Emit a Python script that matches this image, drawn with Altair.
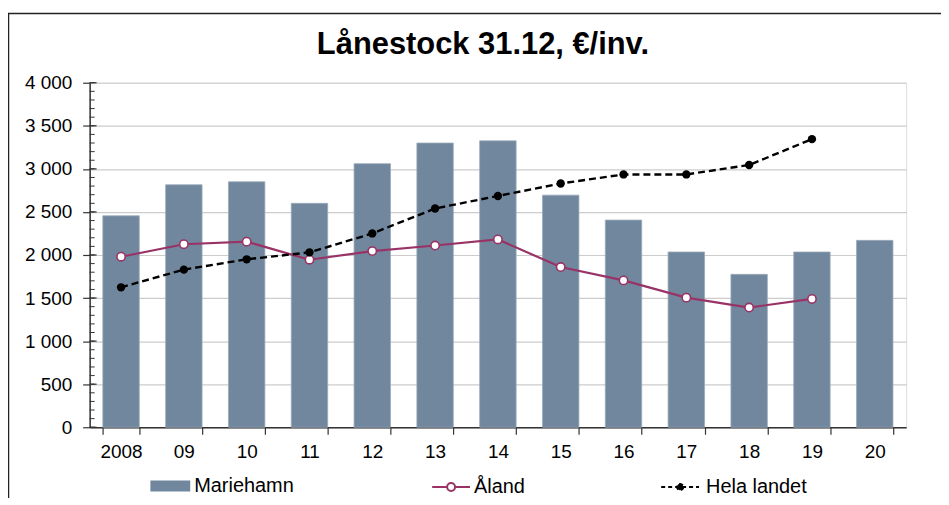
import altair as alt
import pandas as pd

years = ["2008", "09", "10", "11", "12", "13", "14", "15", "16", "17", "18", "19", "20"]
mariehamn = [2455, 2815, 2850, 2600, 3060, 3300, 3325, 2695, 2405, 2035, 1775, 2035, 2170]
aland = [1980, 2125, 2155, 1945, 2045, 2110, 2180, 1860, 1705, 1505, 1390, 1490, None]
hela = [1625, 1830, 1950, 2030, 2250, 2540, 2685, 2830, 2935, 2935, 3045, 3345, None]

major_ticks = list(range(0, 4001, 500))
minor_ticks = list(range(0, 4001, 100))

W, H = 820, 346
FONT = "Liberation Sans"

df_bar = pd.DataFrame({"year": years, "value": mariehamn, "s": "Mariehamn"})
df_al = pd.DataFrame({"year": years, "value": aland, "s": "Åland"}).dropna()
df_he = pd.DataFrame({"year": years, "value": hela, "s": "Hela landet"}).dropna()
df_major = pd.DataFrame({"value": major_ticks})
df_minor = pd.DataFrame({"value": minor_ticks})

x = alt.X("year:N", sort=years,
          scale=alt.Scale(paddingInner=0.42, paddingOuter=0.21),
          axis=alt.Axis(title=None, labelAngle=0, tickBand="extent", tickSize=7,
                        labelPadding=8, labelFontSize=19, labelColor="black",
                        labelFont=FONT, domainColor="#333", tickColor="#333",
                        domainWidth=1.5, tickWidth=1.2, grid=False))
y = alt.Y("value:Q",
          scale=alt.Scale(domain=[0, 4000], nice=False),
          axis=alt.Axis(title=None, values=major_ticks,
                        labelExpr="replace(format(datum.value, ','), ',', ' ')",
                        tickSize=7, labelPadding=11, labelFontSize=19,
                        labelColor="black", labelFont=FONT,
                        domainColor="#333", tickColor="#333", domainWidth=1.5,
                        tickWidth=1.2, grid=True, gridColor="#CCCCCC", gridWidth=1.2))

LEG_Y = 405

def leg(lx, size, **kw):
    return alt.Legend(title=None, orient="none", legendX=lx,
                      legendY=LEG_Y - (size ** 0.5) / 2, padding=0,
                      labelFontSize=20, labelColor="black", labelFont=FONT,
                      symbolSize=size, **kw)

bars = alt.Chart(df_bar).mark_bar(stroke="#9AAABB", strokeWidth=0.8).encode(
    x=x, y=y,
    color=alt.Color("s:N", scale=alt.Scale(domain=["Mariehamn"], range=["#71879D"]),
                    legend=leg(61, 1600, symbolType="M-1,-0.27H1V0.27H-1Z",
                               symbolStrokeWidth=0, symbolOpacity=1, labelOffset=4)))

al_line = alt.Chart(df_al).mark_line(strokeWidth=2.2).encode(
    x=x, y=y,
    color=alt.Color("s:N", scale=alt.Scale(domain=["Åland"], range=["#993366"]),
                    legend=leg(343, 1444,
                               symbolType="M-1,0H-0.21M0.21,0H1M0.21,0A0.21,0.21,0,1,1,-0.21,0A0.21,0.21,0,1,1,0.21,0",
                               symbolFillColor="white", symbolStrokeWidth=2, labelOffset=3)))
al_pts = alt.Chart(df_al).mark_point(filled=True, fill="white", stroke="#993366",
                                     strokeWidth=1.6, size=70, opacity=1).encode(x=x, y=y)

he_line = alt.Chart(df_he).mark_line(strokeWidth=2.4, strokeDash=[7, 4]).encode(
    x=x, y=y,
    color=alt.Color("s:N", scale=alt.Scale(domain=["Hela landet"], range=["black"]),
                    legend=leg(573, 1444,
                               symbolType="M-1,0H1M0.17,0A0.17,0.17,0,1,1,-0.17,0A0.17,0.17,0,1,1,0.17,0",
                               symbolFillColor="black", symbolStrokeWidth=1.8,
                               symbolDash=[4, 3], labelOffset=6)))
he_pts = alt.Chart(df_he).mark_circle(color="black", size=70, opacity=1).encode(x=x, y=y)

maj = alt.Chart(df_major).mark_rule(color="#333", strokeWidth=1.2).encode(
    y=y, x=alt.value(0), x2=alt.value(7))
mino = alt.Chart(df_minor).mark_rule(color="#333", strokeWidth=1).encode(
    y=y, x=alt.value(0), x2=alt.value(5))

frame_data = alt.Data(values=[{"a": 1}])
frame_left = alt.Chart(frame_data).mark_rule(color="#222", strokeWidth=1.5).encode(
    x=alt.value(-81.5), y=alt.value(-70), y2=alt.value(H + 80))
frame_top = alt.Chart(frame_data).mark_rule(color="#222", strokeWidth=1.5).encode(
    x=alt.value(-82), x2=alt.value(W + 40), y=alt.value(-69.5))

chart = alt.layer(
    bars, al_line, al_pts, he_line, he_pts, maj, mino, frame_left, frame_top
).resolve_scale(color="independent").properties(
    width=W, height=H,
    autosize=alt.AutoSizeParams(type="none"),
    padding={"left": 82, "top": 74, "right": 35, "bottom": 70},
    title=alt.TitleParams("Lånestock 31.12, €/inv.", fontSize=31, font=FONT,
                          fontWeight="bold", color="black", anchor="middle",
                          offset=20, dx=-15, dy=69),
).configure_view(fill="#F7F7F7", stroke="#333", strokeWidth=1.5
).configure(font=FONT, background="white")

chart.save("out.html", embed_options={"renderer": "svg", "actions": False})
